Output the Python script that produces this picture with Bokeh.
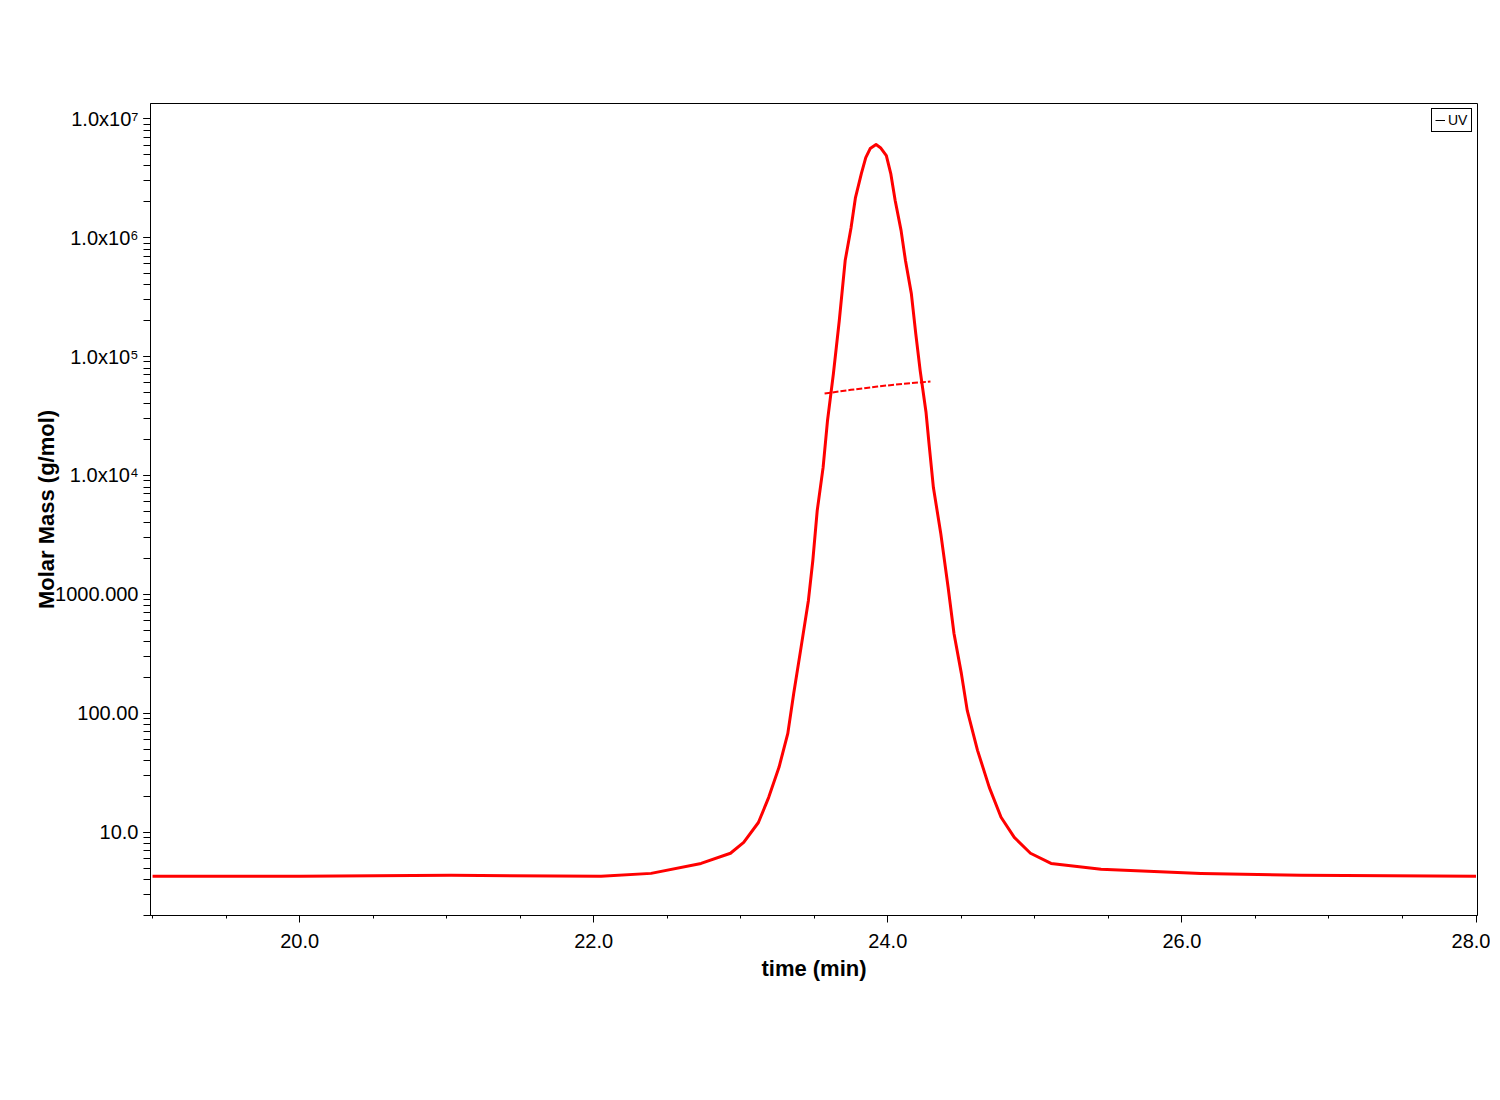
from bokeh.plotting import figure
from bokeh.models import (Range1d, LogTicker, SingleIntervalTicker, CustomJSTickFormatter,
                          PrintfTickFormatter, Legend, LegendItem)
from bokeh.embed import file_html
from bokeh.resources import INLINE

# ---- data ----
time_min = [19.0, 20.0, 21.03, 22.05, 22.39, 22.73, 22.93, 23.02, 23.12, 23.19,
            23.26, 23.32, 23.36, 23.41, 23.46, 23.49, 23.52, 23.56, 23.59, 23.63,
            23.67, 23.71, 23.75, 23.78, 23.82, 23.85, 23.88, 23.92, 23.95, 23.99,
            24.02, 24.05, 24.09, 24.12, 24.16, 24.19, 24.22, 24.26, 24.28, 24.31,
            24.36, 24.41, 24.45, 24.50, 24.54, 24.61, 24.69, 24.77, 24.86, 24.97,
            25.11, 25.45, 26.13, 26.81, 28.0]
uv_signal = [4.27, 4.27, 4.35, 4.27, 4.52, 5.48, 6.67, 8.24, 12.1, 19.7,
             35.2, 67.9, 147, 359, 891, 1930, 5080, 11700, 29000, 71900,
             201000, 641000, 1.21e6, 2.17e6, 3.45e6, 4.70e6, 5.60e6, 6.05e6, 5.70e6, 4.89e6,
             3.45e6, 2.05e6, 1.15e6, 641000, 338000, 156000, 76200, 33800, 18600, 7920,
             3260, 1150, 470, 217, 106, 48.9, 23.9, 13.4, 9.08, 6.67,
             5.48, 4.89, 4.52, 4.35, 4.27]

mm_time = [23.57, 23.75, 23.93, 24.11, 24.29]
molar_mass = [48900, 52500, 56000, 59000, 61700]

y_tick_exponents = [1, 2, 3, 4, 5, 6, 7]
y_tick_labels = ["10.0", "100.00", "1000.000", "1.0x10\u2074", "1.0x10\u2075",
                 "1.0x10\u2076", "1.0x10\u2077"]
legend_labels = ["UV"]

FONT = "Liberation Sans"

p = figure(width=1490, height=1008, output_backend="svg", toolbar_location=None,
           y_axis_type="log",
           x_range=Range1d(18.986, 28.01), y_range=Range1d(2.0, 1.34e7),
           min_border_left=150, min_border_right=13, min_border_top=103, min_border_bottom=93)

p.background_fill_color = "white"
p.border_fill_color = "white"
p.outline_line_color = "black"
p.outline_line_width = 1
p.outline_line_alpha = 1
p.xgrid.visible = False
p.ygrid.visible = False

main = p.line(time_min, uv_signal, line_color="#ff0000", line_width=3, line_join="round")
p.line(mm_time, molar_mass, line_color="#ff0000", line_width=2, line_dash="6 2")

# legend (black sample line, as in reference)
dummy = p.line([float("nan")], [float("nan")], line_color="black", line_width=1)
legend = Legend(items=[LegendItem(label=legend_labels[0], renderers=[dummy])],
                location="top_right", border_line_color="black", border_line_width=1,
                border_line_alpha=1,
                background_fill_color="white", background_fill_alpha=1,
                label_text_font=FONT, label_text_font_size="14px", label_text_color="black",
                glyph_width=10, glyph_height=12, label_height=12, label_standoff=3,
                padding=3, margin=5, spacing=0)
p.add_layout(legend)

# x axis
xa = p.xaxis[0]
xa.ticker = SingleIntervalTicker(interval=2, num_minor_ticks=4)
xa.formatter = PrintfTickFormatter(format="%.1f")
xa.axis_label = "time (min)"
xa.axis_label_text_font = FONT
xa.axis_label_text_font_style = "bold"
xa.axis_label_text_font_size = "22px"
xa.axis_label_standoff = 5
xa.major_label_text_font = FONT
xa.major_label_text_font_size = "20px"
xa.major_label_standoff = 11
xa.major_tick_in = 0
xa.major_tick_out = 7
xa.minor_tick_in = 0
xa.minor_tick_out = 3
xa.axis_line_color = "black"
xa.major_tick_line_color = "black"
xa.minor_tick_line_color = "black"
xa.major_label_text_color = "black"
xa.axis_label_text_color = "black"

# y axis
ya = p.yaxis[0]
ya.ticker = LogTicker(desired_num_ticks=8, num_minor_ticks=10, mantissas=[1])
label_map = {str(e): l for e, l in zip(y_tick_exponents, y_tick_labels)}
ya.formatter = CustomJSTickFormatter(args=dict(labels=label_map), code="""
    const e = Math.round(Math.log10(tick));
    const k = String(e);
    return (k in labels) ? labels[k] : "";
""")
ya.axis_label = "Molar Mass (g/mol)"
ya.axis_label_text_font = FONT
ya.axis_label_text_font_style = "bold"
ya.axis_label_text_font_size = "22px"
ya.axis_label_standoff = -7
ya.major_label_text_font = FONT
ya.major_label_text_font_size = "20px"
ya.major_label_standoff = 5
ya.major_tick_in = 0
ya.major_tick_out = 7
ya.minor_tick_in = 0
ya.minor_tick_out = 7
ya.axis_line_color = "black"
ya.major_tick_line_color = "black"
ya.minor_tick_line_color = "black"
ya.major_label_text_color = "black"
ya.axis_label_text_color = "black"

open("out.html", "w").write(file_html(p, INLINE))
